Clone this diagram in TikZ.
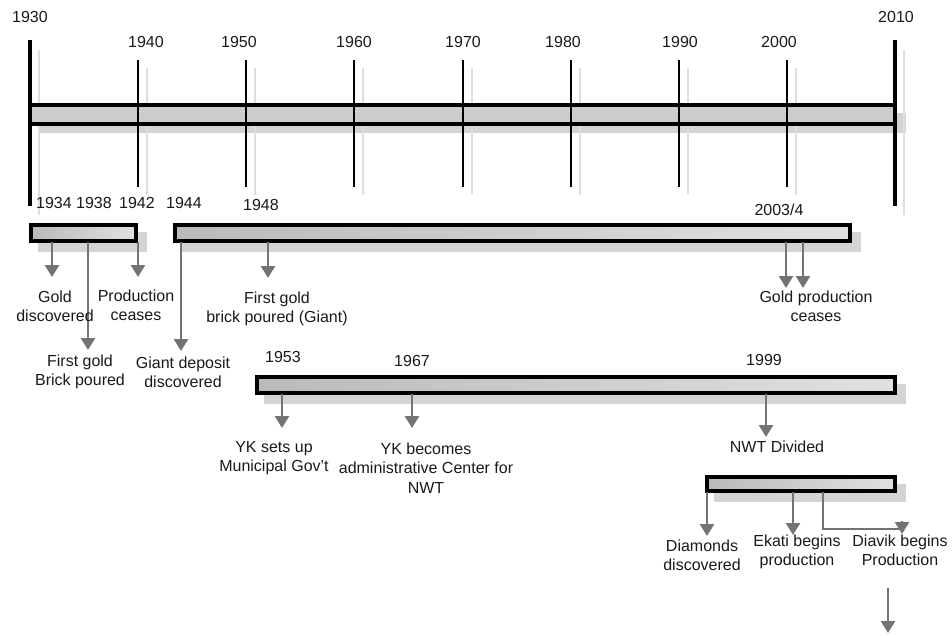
\documentclass[tikz,border=0pt]{standalone}
\usepackage{fontspec}
\setmainfont{Liberation Sans}
\usetikzlibrary{arrows.meta}
\begin{document}
\begin{tikzpicture}[x=1pt,y=-1pt,
  lbl/.style={font=\fontsize{16}{19.3}\selectfont, text=black!90, align=center, inner sep=0pt},
  tickline/.style={line width=2pt, black},
  tickshadow/.style={line width=2pt, black!13},
  endline/.style={line width=4.5pt, black},
  barbox/.style={draw=black, line width=4pt, left color=black!27, right color=black!12},
  barshadow/.style={fill=black!17, draw=none},
  evarrow/.style={draw=black!55, line width=2.6pt, -{Triangle[width=14pt,length=12pt]}},
  evline/.style={draw=black!55, line width=2.6pt}
]
\useasboundingbox (0,0) rectangle (952,635);

% ---------- main timeline ----------
\fill[black!17] (39,113) rectangle (906,133);
\foreach \x in {138,246,354,463,571,679,787}{
  \draw[tickshadow] (\x+9,68) -- (\x+9,195);
}
\draw[line width=2.5pt, black!13] (39,50) -- (39,215);
\draw[line width=2.5pt, black!13] (904,50) -- (904,215);
\draw[draw=black, line width=4pt, fill=black!20] (30,105) rectangle (895,124);
\foreach \x in {138,246,354,463,571,679,787}{
  \draw[tickline] (\x,60) -- (\x,187);
}
\draw[endline] (30,40) -- (30,206);
\draw[endline] (895,40) -- (895,206);

\node[lbl] (y1930) at (30,17) {1930};
\node[lbl] (y2010) at (896,17) {2010};
\node[lbl] (y1940) at (146,42) {1940};
\node[lbl] (y1950) at (239,42) {1950};
\node[lbl] (y1960) at (354,42) {1960};
\node[lbl] (y1970) at (463,42) {1970};
\node[lbl] (y1980) at (563,42) {1980};
\node[lbl] (y1990) at (680,42) {1990};
\node[lbl] (y2000) at (779,42) {2000};

% ---------- row 2 ----------
\node[lbl] (y1934) at (54,203) {1934};
\node[lbl] (y1938) at (94,203) {1938};
\node[lbl] (y1942) at (137,203) {1942};
\node[lbl] (y1944) at (184,203) {1944};
\node[lbl] (y1948) at (261,205) {1948};
\node[lbl] (y2003) at (779,210) {2003/4};

\fill[barshadow] (38,232) rectangle (147,252);
\fill[barshadow] (182,232) rectangle (861,252);
\draw[barbox] (31,225) rectangle (136,241);
\draw[barbox] (175,225) rectangle (850,241);

\coordinate (a1s) at (52,242);  \coordinate (a1e) at (52,277);
\coordinate (a2s) at (88,242);  \coordinate (a2e) at (88,350);
\coordinate (a3s) at (138,242); \coordinate (a3e) at (138,277);
\coordinate (a4s) at (181,242); \coordinate (a4e) at (181,351);
\coordinate (a5s) at (268,242); \coordinate (a5e) at (268,278);
\coordinate (a6s) at (786,242); \coordinate (a6e) at (786,288);
\coordinate (a7s) at (803,242); \coordinate (a7e) at (803,288);
\draw[evarrow] (a1s) -- (a1e);
\draw[evarrow] (a2s) -- (a2e);
\draw[evarrow] (a3s) -- (a3e);
\draw[evarrow] (a4s) -- (a4e);
\draw[evarrow] (a5s) -- (a5e);
\draw[evarrow] (a6s) -- (a6e);
\draw[evarrow] (a7s) -- (a7e);

\node[lbl] (goldd) at (55,306) {Gold\\discovered};
\node[lbl] (prodc) at (136,305) {Production\\ceases};
\node[lbl] (brick) at (80,372) {First gold\\Brick poured};
\node[lbl] (giant) at (183,372) {Giant deposit\\discovered};
\node[lbl] (brickg) at (277,309) {First gold\\brick poured (Giant)};
\node[lbl] (gpc) at (816,306) {Gold production\\ceases};

% ---------- row 3 ----------
\node[lbl] (y1953) at (283,357) {1953};
\node[lbl] (y1967) at (412,361) {1967};
\node[lbl] (y1999) at (764,360) {1999};
\fill[barshadow] (264,384) rectangle (906,404);
\draw[barbox] (257,377) rectangle (895,393);
\coordinate (b1s) at (282,394); \coordinate (b1e) at (282,428);
\coordinate (b2s) at (412,394); \coordinate (b2e) at (412,428);
\coordinate (b3s) at (766,394); \coordinate (b3e) at (766,437);
\draw[evarrow] (b1s) -- (b1e);
\draw[evarrow] (b2s) -- (b2e);
\draw[evarrow] (b3s) -- (b3e);
\node[lbl] (yk1) at (274,458) {YK sets up\\Municipal Gov't};
\node[lbl] (yk2) at (426,468) {YK becomes\\administrative Center for\\NWT};
\node[lbl] (nwt) at (777,447) {NWT Divided};

% ---------- row 4 ----------
\fill[barshadow] (714,484) rectangle (906,502);
\draw[barbox] (707,477) rectangle (895,491);
\coordinate (c1s) at (707,492); \coordinate (c1e) at (707,536);
\coordinate (c2s) at (793,492); \coordinate (c2e) at (793,535);
\coordinate (c3s) at (823,492); \coordinate (c3m) at (902,529);
\coordinate (c3a) at (902,521); \coordinate (c3e) at (902,534);
\draw[evarrow] (c1s) -- (c1e);
\draw[evarrow] (c2s) -- (c2e);
\draw[evline] (c3s) |- (c3m);
\draw[evarrow] (c3a) -- (c3e);
\node[lbl] (diam) at (702,555) {Diamonds\\discovered};
\node[lbl] (ekati) at (797,552) {Ekati begins\\production};
\node[lbl] (diavik) at (900,550) {Diavik begins\\Production};

\coordinate (d1s) at (888,588); \coordinate (d1e) at (888,633);
\draw[evarrow] (d1s) -- (d1e);
\end{tikzpicture}
\end{document}
